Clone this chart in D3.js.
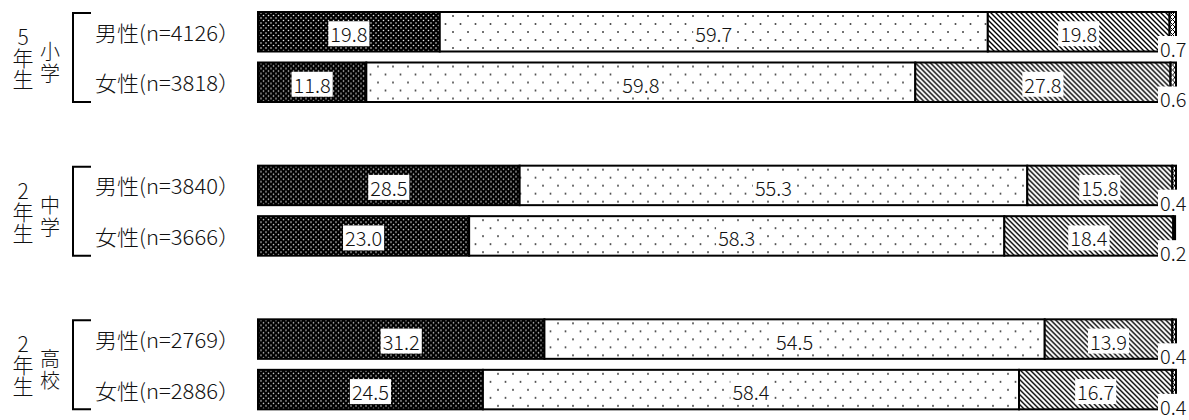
<!DOCTYPE html>
<html>
<head>
<meta charset="utf-8">
<script src="https://cdn.jsdelivr.net/npm/d3@7"></script>
<style>
  body { margin: 0; background: #fff; }
  svg { display: block; font-family: "Noto Sans CJK JP", "Noto Sans", sans-serif; font-weight: 300; }
</style>
</head>
<body>
<div class="chart"></div>
<script>
// groups, school year labels and rows
const groups = ['小学5年生', '中学2年生', '高校2年生'];
const gradeChars = [['5', '年', '生'], ['2', '年', '生'], ['2', '年', '生']];
const schoolChars = [['小', '学'], ['中', '学'], ['高', '校']];
const rowKeys = ['男性', '女性'];
const rowLabels = [
  ['男性(n=4126）', '女性(n=3818）'],
  ['男性(n=3840）', '女性(n=3666）'],
  ['男性(n=2769）', '女性(n=2886）']
];

// percentages per segment (4 answer categories)
const seg1 = [[19.8, 11.8], [28.5, 23.0], [31.2, 24.5]];
const seg2 = [[59.7, 59.8], [55.3, 58.3], [54.5, 58.4]];
const seg3 = [[19.8, 27.8], [15.8, 18.4], [13.9, 16.7]];
const seg4 = [[0.7, 0.6], [0.4, 0.2], [0.4, 0.4]];

const width = 1189, height = 420;

const svg = d3.select('.chart')
  .append('svg')
  .attr('width', width)
  .attr('height', height);

// fill patterns
const defs = svg.append('defs');

const dark = defs.append('pattern')
  .attr('id', 'p-dark')
  .attr('patternUnits', 'userSpaceOnUse')
  .attr('width', 5).attr('height', 5);
dark.append('rect').attr('width', 5).attr('height', 5).attr('fill', '#000');
dark.append('circle').attr('cx', 1).attr('cy', 1).attr('r', 0.8).attr('fill', '#e6e6e6');
dark.append('circle').attr('cx', 3.5).attr('cy', 3.5).attr('r', 0.8).attr('fill', '#e6e6e6');

const light = defs.append('pattern')
  .attr('id', 'p-light')
  .attr('patternUnits', 'userSpaceOnUse')
  .attr('width', 15).attr('height', 16);
light.append('rect').attr('width', 15).attr('height', 16).attr('fill', '#fff');
light.append('circle').attr('cx', 3).attr('cy', 4).attr('r', 1).attr('fill', '#444');
light.append('circle').attr('cx', 10.5).attr('cy', 12).attr('r', 1).attr('fill', '#444');

const hatch = defs.append('pattern')
  .attr('id', 'p-hatch')
  .attr('patternUnits', 'userSpaceOnUse')
  .attr('width', 5).attr('height', 5);
hatch.append('rect').attr('width', 5).attr('height', 5).attr('fill', '#fff');
hatch.append('path')
  .attr('d', 'M0,0L5,5M-1,4L1,6M4,-1L6,1')
  .attr('stroke', '#000').attr('stroke-width', 1.4);

const cross = defs.append('pattern')
  .attr('id', 'p-cross')
  .attr('patternUnits', 'userSpaceOnUse')
  .attr('width', 5).attr('height', 5);
cross.append('rect').attr('width', 5).attr('height', 5).attr('fill', '#fff');
cross.append('path')
  .attr('d', 'M0,0L5,5M-1,4L1,6M4,-1L6,1M0,5L5,0M-1,1L1,-1M4,6L6,4')
  .attr('stroke', '#000').attr('stroke-width', 1);

const fills = ['url(#p-dark)', 'url(#p-light)', 'url(#p-hatch)', 'url(#p-cross)'];

// scales
const x = d3.scaleLinear().domain([0, 100]).range([258, 1176]);
const yGroup = d3.scaleBand().domain(groups).range([12, 473]);
const yRow = d3.scaleBand().domain(rowKeys).range([0, 90]).paddingInner(0.218);

// flatten into rows of stacked segments
const rows = [];
groups.forEach((g, gi) => {
  rowKeys.forEach((r, ri) => {
    const vals = [seg1[gi][ri], seg2[gi][ri], seg3[gi][ri], seg4[gi][ri]];
    let acc = 0;
    const segs = vals.map((v, k) => {
      const s = { v, k, x0: acc, x1: acc + v };
      acc += v;
      return s;
    });
    rows.push({ group: g, gi, row: r, ri, label: rowLabels[gi][ri], segs,
      y: yGroup(g) + yRow(r) });
  });
});

const bh = yRow.bandwidth();

const rowG = svg.selectAll('.row')
  .data(rows)
  .enter().append('g')
  .attr('class', 'row')
  .attr('transform', d => `translate(0,${d.y})`);

rowG.selectAll('rect')
  .data(d => d.segs)
  .enter().append('rect')
  .attr('x', d => x(d.x0))
  .attr('y', 0)
  .attr('width', d => x(d.x1) - x(d.x0))
  .attr('height', bh)
  .attr('fill', d => fills[d.k])
  .attr('stroke', '#000')
  .attr('stroke-width', 2);

// value labels with white boxes
rowG.each(function (d) {
  const g = d3.select(this);
  d.segs.forEach(s => {
    const small = s.v < 2;
    const lbl = g.append('g');
    const t = lbl.append('text')
      .attr('font-size', 20)
      .attr('fill', '#111')
      .attr('dominant-baseline', 'central')
      .text(s.v.toFixed(1));
    if (small) {
      t.attr('x', 1160).attr('y', bh - 3).attr('text-anchor', 'start');
    } else {
      t.attr('x', (x(s.x0) + x(s.x1)) / 2).attr('y', bh / 2 + 2).attr('text-anchor', 'middle');
    }
    const bb = t.node().getBBox();
    lbl.insert('rect', 'text')
      .attr('x', bb.x - 2)
      .attr('y', bb.y + 2)
      .attr('width', bb.width + 4)
      .attr('height', bb.height - 4)
      .attr('fill', '#fff');
  });
});

// row labels
rowG.append('text')
  .attr('x', 95)
  .attr('y', bh / 2)
  .attr('dominant-baseline', 'central')
  .attr('font-size', 21)
  .attr('textLength', 145)
  .attr('lengthAdjust', 'spacingAndGlyphs')
  .attr('fill', '#111')
  .text(d => d.label);

// group brackets and vertical labels
const grp = svg.selectAll('.grp')
  .data(groups)
  .enter().append('g')
  .attr('class', 'grp')
  .attr('transform', g => `translate(0,${yGroup(g)})`);

grp.append('path')
  .attr('d', `M91,1H73V${yRow.range()[1]}H91`)
  .attr('fill', 'none')
  .attr('stroke', '#000')
  .attr('stroke-width', 2);

grp.each(function (g, gi) {
  const el = d3.select(this);
  const grade = el.append('text')
    .attr('text-anchor', 'middle')
    .attr('font-size', 21)
    .attr('fill', '#111');
  gradeChars[gi].forEach((c, i) => {
    grade.append('tspan')
      .attr('x', 23)
      .attr('y', 33 + i * 21)
      .text(c);
  });
  const school = el.append('text')
    .attr('text-anchor', 'middle')
    .attr('font-size', 20)
    .attr('fill', '#111');
  schoolChars[gi].forEach((c, i) => {
    school.append('tspan')
      .attr('x', 50)
      .attr('y', 47 + i * 22)
      .text(c);
  });
});
</script>
</body>
</html>
